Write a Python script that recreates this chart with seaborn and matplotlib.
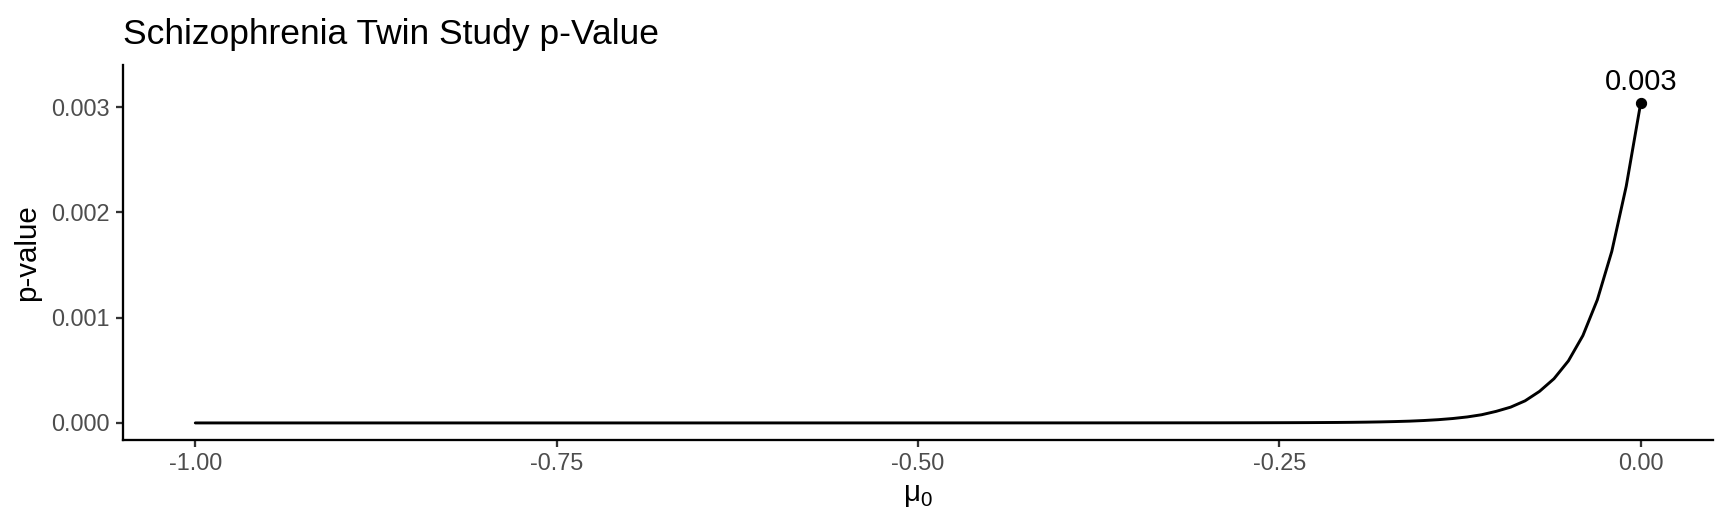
import numpy as np
import pandas as pd
import seaborn as sns
import matplotlib.pyplot as plt

# p-value curve (grid of mu0 values, coarse where flat)
mu0 = [-1.00, -0.95, -0.90, -0.85, -0.80, -0.75, -0.70, -0.65, -0.60, -0.55,
       -0.50, -0.45, -0.40, -0.35, -0.30,
       -0.29, -0.28, -0.27, -0.26, -0.25, -0.24, -0.23, -0.22, -0.21, -0.20,
       -0.19, -0.18, -0.17, -0.16, -0.15, -0.14, -0.13, -0.12, -0.11, -0.10,
       -0.09, -0.08, -0.07, -0.06, -0.05, -0.04, -0.03, -0.02, -0.01, 0.00]
pval = [0.0, 0.0, 0.0, 0.0, 0.0, 0.0, 0.0, 0.0, 0.0000001, 0.0000001,
        0.0000002, 0.0000003, 0.0000004, 0.0000007, 0.0000011,
        0.0000012, 0.0000014, 0.0000016, 0.0000019, 0.0000022, 0.0000026, 0.0000031, 0.0000038, 0.0000046, 0.0000058,
        0.0000075, 0.0000098, 0.000013, 0.000017, 0.000023, 0.000031, 0.000042, 0.000057, 0.000078, 0.00011,
        0.00015, 0.00021, 0.00030, 0.00042, 0.00059, 0.00083, 0.00117, 0.00163, 0.00225, 0.00304]
label_text = "0.003"
label_offset = 0.0002

xticks = [-1.00, -0.75, -0.50, -0.25, 0.00]
yticks = [0.000, 0.001, 0.002, 0.003]

df = pd.DataFrame({"mu0": mu0, "p": pval})

sns.set_theme(style="ticks")
plt.rcParams["font.family"] = ["Liberation Sans", "DejaVu Sans"]
plt.rcParams["mathtext.fontset"] = "custom"
plt.rcParams["mathtext.rm"] = "Liberation Sans"
plt.rcParams["axes.unicode_minus"] = False

fig = plt.figure(figsize=(11.52, 3.52), dpi=150)
ax = fig.add_axes([0.0712, 0.1667, 0.9201, 0.7103])

sns.lineplot(data=df, x="mu0", y="p", color="black", linewidth=1.4, ax=ax)
last = df.iloc[[-1]]
sns.scatterplot(data=last, x="mu0", y="p", color="black", s=24, edgecolor="black",
                linewidth=0.5, ax=ax, zorder=3)
ax.text(last["mu0"].iloc[0], last["p"].iloc[0] + label_offset, label_text,
        ha="center", va="center", fontsize=14, color="black")

top = last["p"].iloc[0] + label_offset
span = top - 0
ax.set_ylim(-0.05 * span, top + 0.05 * span)
ax.set_xlim(-1.05, 0.05)

ax.set_xticks(xticks)
ax.set_xticklabels([f"{t:.2f}" for t in xticks])
ax.set_yticks(yticks)
ax.set_yticklabels([f"{t:.3f}" for t in yticks])
ax.tick_params(axis="both", labelsize=11.3, labelcolor="#4D4D4D", color="#333333",
               length=3.5, width=1.1, pad=2.8)

for s in ["top", "right"]:
    ax.spines[s].set_visible(False)
for s in ["left", "bottom"]:
    ax.spines[s].set_color("black")
    ax.spines[s].set_linewidth(1.1)

ax.set_xlabel(r"μ$_{\mathregular{0}}$", fontsize=14.2, color="black", labelpad=3)
ax.set_ylabel("p-value", fontsize=14.2, color="black", labelpad=5)
ax.set_title("Schizophrenia Twin Study p-Value", fontsize=17, loc="left", pad=10,
             color="black")
ax.grid(False)

fig.savefig("out.png", dpi=150)
